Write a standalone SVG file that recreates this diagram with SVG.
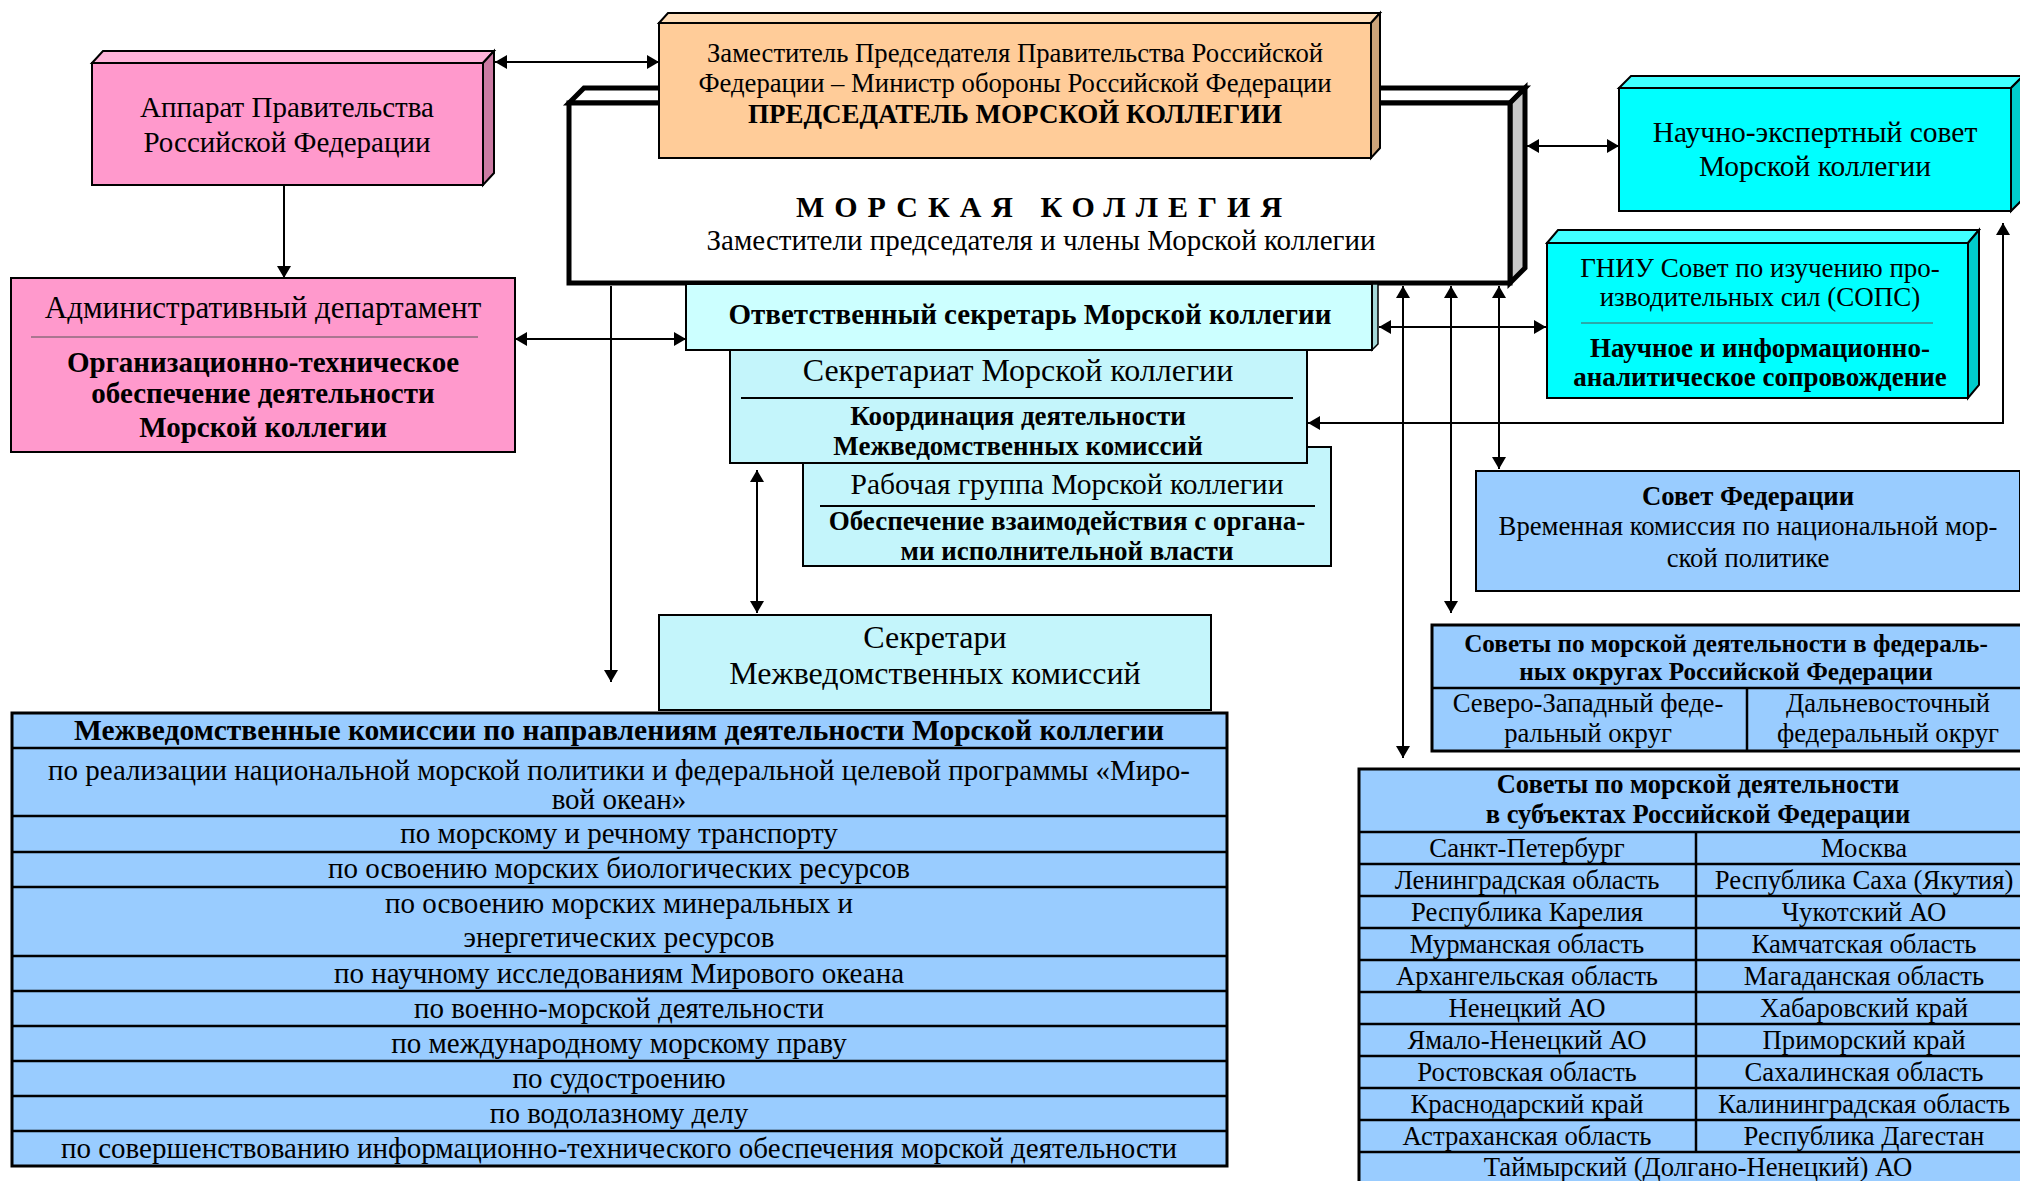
<svg xmlns="http://www.w3.org/2000/svg" width="2020" height="1181" viewBox="0 0 2020 1181">
<defs>
<marker id="ah" viewBox="0 0 12 14" refX="12" refY="7" markerWidth="12" markerHeight="14" markerUnits="userSpaceOnUse" orient="auto-start-reverse"><path d="M0,0 L12,7 L0,14 z" fill="#000"/></marker>
<style>
text{font-family:"Liberation Serif","Times New Roman",serif;fill:#000;text-anchor:middle}
.b{font-weight:bold}
.bx{stroke:#000;stroke-width:2}
.tb{stroke:#000;stroke-width:3}
.ln{stroke:#000;stroke-width:2.5;fill:none}
.sep{stroke:#555;stroke-width:1}
.cn{stroke:#000;stroke-width:2;fill:none}
.pink{fill:#FF99CC}.pinkT{fill:#FFB3D9}.pinkS{fill:#CC7AA3}
.or{fill:#FFCC99}.orT{fill:#FFDDB8}.orS{fill:#CCA37A}
.cy{fill:#00FFFF}.cyT{fill:#40FFFF}.cyS{fill:#00CCCC}
.lc{fill:#CCFFFF}.lc2{fill:#C4F5FB}.bl{fill:#99CCFF}
</style>
</defs>
<rect width="2020" height="1181" fill="#fff"/>

<g id="morskaya-kollegiya">
<polygon points="569,103 584,88 1525,88 1510,103" fill="#fff" stroke="#000" stroke-width="5" stroke-linejoin="miter"/>
<polygon points="1510,103 1525,88 1525,268 1510,283" fill="#C8C8C8" stroke="#000" stroke-width="5"/>
<rect x="569" y="103" width="941" height="180" fill="#fff" stroke="#000" stroke-width="5"/>
<text x="1044" y="217" class="b" font-size="30" letter-spacing="10">МОРСКАЯ КОЛЛЕГИЯ</text>
<text x="1041" y="250" font-size="29">Заместители председателя и члены Морской коллегии</text>
</g>

<g id="zamestitel">
<polygon points="659,23 668,13 1380,13 1371,23" class="orT bx"/>
<polygon points="1371,23 1380,13 1380,148 1371,158" class="orS bx"/>
<rect x="659" y="23" width="712" height="135" class="or bx"/>
<text x="1015" y="62" font-size="26.7">Заместитель Председателя Правительства Российской</text>
<text x="1015" y="92" font-size="26.7">Федерации – Министр обороны Российской Федерации</text>
<text x="1015" y="123" class="b" font-size="27">ПРЕДСЕДАТЕЛЬ МОРСКОЙ КОЛЛЕГИИ</text>
</g>

<g id="apparat">
<polygon points="92,63 103,51 494,51 483,63" class="pinkT bx"/>
<polygon points="483,63 494,51 494,173 483,185" class="pinkS bx"/>
<rect x="92" y="63" width="391" height="122" class="pink bx"/>
<text x="287" y="117" font-size="29">Аппарат Правительства</text>
<text x="287" y="152" font-size="29">Российской Федерации</text>
</g>

<g id="admin-dept">
<rect x="11" y="278" width="504" height="174" class="pink bx"/>
<text x="263" y="318" font-size="31">Административный департамент</text>
<line x1="31" y1="337" x2="478" y2="337" class="sep"/>
<text x="263" y="372" class="b" font-size="29">Организационно-техническое</text>
<text x="263" y="403" class="b" font-size="29">обеспечение деятельности</text>
<text x="263" y="437" class="b" font-size="29">Морской коллегии</text>
</g>

<g id="nauchno-expertny">
<polygon points="1619,88 1631,76 2023,76 2011,88" class="cyT bx"/>
<polygon points="2011,88 2023,76 2023,199 2011,211" class="cyS bx"/>
<rect x="1619" y="88" width="392" height="123" class="cy bx"/>
<text x="1815" y="142" font-size="29.5">Научно-экспертный совет</text>
<text x="1815" y="176" font-size="29.5">Морской коллегии</text>
</g>

<g id="gniu-sops">
<polygon points="1547,243 1558,230 1979,230 1968,243" class="cyT bx"/>
<polygon points="1968,243 1979,230 1979,385 1968,398" class="cyS bx"/>
<rect x="1547" y="243" width="421" height="155" class="cy bx"/>
<text x="1760" y="277" font-size="27">ГНИУ Совет по изучению про-</text>
<text x="1760" y="306" font-size="27">изводительных сил (СОПС)</text>
<line x1="1581" y1="323" x2="1933" y2="323" class="sep"/>
<text x="1760" y="357" class="b" font-size="27">Научное и информационно-</text>
<text x="1760" y="386" class="b" font-size="27">аналитическое сопровождение</text>
</g>

<g id="rabochaya-gruppa">
<rect x="803" y="447" width="528" height="119" class="lc2 bx"/>
<text x="1067" y="494" font-size="29.5">Рабочая группа Морской коллегии</text>
<line x1="820" y1="506" x2="1315" y2="506" stroke="#000" stroke-width="2"/>
<text x="1067" y="530" class="b" font-size="27">Обеспечение взаимодействия с органа-</text>
<text x="1067" y="560" class="b" font-size="27">ми исполнительной власти</text>
</g>

<g id="sekretariat">
<rect x="730" y="350" width="577" height="113" class="lc2 bx"/>
<text x="1018" y="381" font-size="32">Секретариат Морской коллегии</text>
<line x1="741" y1="398" x2="1293" y2="398" stroke="#000" stroke-width="2"/>
<text x="1018" y="425" class="b" font-size="27">Координация деятельности</text>
<text x="1018" y="455" class="b" font-size="27">Межведомственных комиссий</text>
</g>

<g id="otv-sekretar">
<polygon points="1372,284 1378,284 1378,344 1372,350" fill="#A6D9D9" stroke="#000" stroke-width="1.5"/>
<rect x="686" y="284" width="686" height="66" class="lc bx"/>
<text x="1030" y="324" class="b" font-size="29">Ответственный секретарь Морской коллегии</text>
</g>

<g id="sekretari-mvk">
<rect x="659" y="615" width="552" height="95" class="lc2 bx"/>
<text x="935" y="648" font-size="32">Секретари</text>
<text x="935" y="684" font-size="32">Межведомственных комиссий</text>
</g>

<g id="mvk-table">
<rect x="12" y="713" width="1215" height="453" class="bl tb"/>
<path d="M12,748H1227M12,816H1227M12,852H1227M12,887H1227M12,956H1227M12,991H1227M12,1026H1227M12,1061H1227M12,1096H1227M12,1131H1227" class="ln"/>
<text x="619" y="740" class="b" font-size="29.5">Межведомственные комиссии по направлениям деятельности Морской коллегии</text>
<g font-size="29">
<text x="619" y="780">по реализации национальной морской политики и федеральной целевой программы «Миро-</text>
<text x="619" y="809">вой океан»</text>
<text x="619" y="843">по морскому и речному транспорту</text>
<text x="619" y="878">по освоению морских биологических ресурсов</text>
<text x="619" y="913">по освоению морских минеральных и</text>
<text x="619" y="947">энергетических ресурсов</text>
<text x="619" y="983">по научному исследованиям Мирового океана</text>
<text x="619" y="1018">по военно-морской деятельности</text>
<text x="619" y="1053">по международному морскому праву</text>
<text x="619" y="1088">по судостроению</text>
<text x="619" y="1123">по водолазному делу</text>
<text x="619" y="1158">по совершенствованию информационно-технического обеспечения морской деятельности</text>
</g>
</g>

<g id="sovet-federacii">
<rect x="1476" y="471" width="544" height="120" class="bl bx"/>
<text x="1748" y="505" class="b" font-size="26.7">Совет Федерации</text>
<text x="1748" y="535" font-size="26.7">Временная комиссия по национальной мор-</text>
<text x="1748" y="567" font-size="26.7">ской политике</text>
</g>

<g id="sovety-fo">
<rect x="1432" y="625" width="590" height="126" class="bl tb"/>
<path d="M1432,688H2020M1747,688V751" class="ln"/>
<text x="1726" y="652" class="b" font-size="25.2">Советы по морской деятельности в федераль-</text>
<text x="1726" y="680" class="b" font-size="25.2">ных округах Российской Федерации</text>
<g font-size="26.7">
<text x="1588" y="712">Северо-Западный феде-</text>
<text x="1588" y="742">ральный округ</text>
<text x="1888" y="712">Дальневосточный</text>
<text x="1888" y="742">федеральный округ</text>
</g>
</g>

<g id="sovety-subjects">
<rect x="1359" y="769" width="663" height="416" class="bl tb"/>
<path d="M1359,832H2020M1359,864H2020M1359,896H2020M1359,928H2020M1359,960H2020M1359,992H2020M1359,1024H2020M1359,1056H2020M1359,1088H2020M1359,1120H2020M1359,1152H2020M1696,832V1152" class="ln"/>
<text x="1698" y="793" class="b" font-size="26.5">Советы по морской деятельности</text>
<text x="1698" y="823" class="b" font-size="26.5">в субъектах Российской Федерации</text>
<g font-size="26.7">
<text x="1527" y="857">Санкт-Петербург</text><text x="1864" y="857">Москва</text>
<text x="1527" y="889">Ленинградская область</text><text x="1864" y="889">Республика Саха (Якутия)</text>
<text x="1527" y="921">Республика Карелия</text><text x="1864" y="921">Чукотский АО</text>
<text x="1527" y="953">Мурманская область</text><text x="1864" y="953">Камчатская область</text>
<text x="1527" y="985">Архангельская область</text><text x="1864" y="985">Магаданская область</text>
<text x="1527" y="1017">Ненецкий АО</text><text x="1864" y="1017">Хабаровский край</text>
<text x="1527" y="1049">Ямало-Ненецкий АО</text><text x="1864" y="1049">Приморский край</text>
<text x="1527" y="1081">Ростовская область</text><text x="1864" y="1081">Сахалинская область</text>
<text x="1527" y="1113">Краснодарский край</text><text x="1864" y="1113">Калининградская область</text>
<text x="1527" y="1145">Астраханская область</text><text x="1864" y="1145">Республика Дагестан</text>
<text x="1698" y="1176">Таймырский (Долгано-Ненецкий) АО</text>
</g>
</g>

<g id="connectors">
<line x1="495" y1="62" x2="659" y2="62" class="cn" marker-start="url(#ah)" marker-end="url(#ah)"/>
<line x1="284" y1="185" x2="284" y2="278" class="cn" marker-end="url(#ah)"/>
<line x1="515" y1="339" x2="686" y2="339" class="cn" marker-start="url(#ah)" marker-end="url(#ah)"/>
<line x1="611" y1="286" x2="611" y2="682" class="cn" marker-end="url(#ah)"/>
<line x1="1527" y1="146" x2="1619" y2="146" class="cn" marker-start="url(#ah)" marker-end="url(#ah)"/>
<line x1="1379" y1="327" x2="1546" y2="327" class="cn" marker-start="url(#ah)" marker-end="url(#ah)"/>
<line x1="1403" y1="286" x2="1403" y2="758" class="cn" marker-start="url(#ah)" marker-end="url(#ah)"/>
<line x1="1451" y1="286" x2="1451" y2="613" class="cn" marker-start="url(#ah)" marker-end="url(#ah)"/>
<line x1="1499" y1="286" x2="1499" y2="469" class="cn" marker-start="url(#ah)" marker-end="url(#ah)"/>
<polyline points="2003,223 2003,423 1308,423" class="cn" marker-start="url(#ah)" marker-end="url(#ah)"/>
<line x1="757" y1="470" x2="757" y2="613" class="cn" marker-start="url(#ah)" marker-end="url(#ah)"/>
</g>
</svg>
